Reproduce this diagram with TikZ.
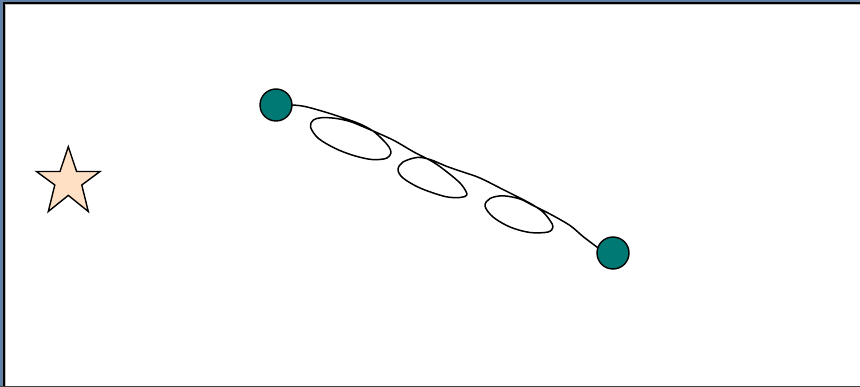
\documentclass[tikz,border=0pt]{standalone}
\definecolor{frameblue}{RGB}{96,128,166}
\definecolor{tealdot}{RGB}{0,120,116}
\definecolor{peach}{RGB}{255,224,196}
\begin{document}
\begin{tikzpicture}[x=1pt,y=-1pt,
  dot/.style={circle,draw=black,line width=1.4pt,fill=tealdot,minimum size=32pt,inner sep=0pt},
  wire/.style={line width=1.5pt,line join=round,line cap=round},
  starshape/.style={fill=peach,draw=black,line width=1.4pt,line join=miter}]
\useasboundingbox (0,0) rectangle (860,387);
% window frame
\fill[frameblue] (0,0) rectangle (3.4,387);
\fill[frameblue] (0,0) rectangle (860,2.3);
\draw[line width=1.3pt] (4,387) -- (4,3) -- (860,3);
\draw[gray!50,line width=0.6pt] (5.1,387) -- (5.1,4.2) -- (860,4.2);
\draw[black!75,line width=1.4pt] (0,386.3) -- (860,386.3);
% star
\filldraw[starshape] (68.3,146.7) -- (76.6,171.5) -- (100,171.5) -- (81.8,185)
  -- (88.3,211.5) -- (68.3,195.4) -- (48.3,211.5) -- (54.8,185)
  -- (36.5,171.5) -- (60,171.5) -- cycle;
% dots
\node[dot] (c1) at (276,105) {};
\node[dot] (c2) at (613,253) {};
% looped connector
\draw[wire] plot[smooth,tension=0.55] coordinates {
  (c1.east) (305,106.5) (325,112) (345,118.5) (360,124) (373,131)
  (383,140) (389,147) (391,153) (387,158) (378,159.6) (368,159)
  (352,155) (335,148.3) (318.3,138.3) (310.5,127) (313.3,120)
  (321.7,117.7) (335,118.3) (350,121.5) (365,127.5) (380,134)
  (395,141) (413,151.5) (433,162) (447,172) (460,183) (466,191.5)
  (466.5,195.5) (460,197.5) (445,196.5) (420,188) (403,178)
  (398,169.5) (403,162) (417,157.5) (430,159.5) (447,166.5)
  (463,172) (480,178) (503,189.5) (520,198) (533,205) (543,212)
  (550,220.5) (553,227) (548,232) (530,232.5) (510,227) (493,217)
  (485,206) (490,198.5) (503,195.8) (520,199) (533,205.5)
  (550,214) (570,225.5) (583,236.5) (c2.160) };
\end{tikzpicture}
\end{document}
